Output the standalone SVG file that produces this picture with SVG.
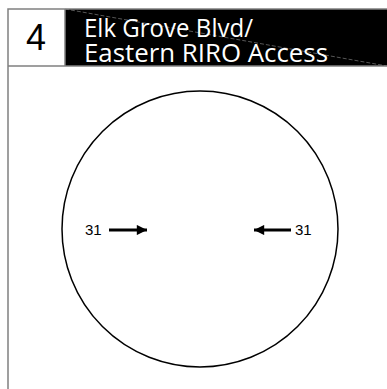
<svg xmlns="http://www.w3.org/2000/svg" width="387" height="389" viewBox="0 0 387 389">
<defs>
<style>
.frame{stroke:#808080;stroke-width:1.5;fill:none}
.title{font-family:"Open Sans","Liberation Sans",sans-serif;fill:#fff;font-size:26px}
.vol{font-family:"Liberation Sans",Arial,sans-serif;font-size:15px;fill:#000}
.arrow{stroke:#000;stroke-width:3;fill:none}
</style>
<marker id="ah" viewBox="0 0 10 10" refX="10" refY="5" markerWidth="5" markerHeight="3.4" markerUnits="strokeWidth" orient="auto"><path d="M0,0 L10,5 L0,10 Z" fill="#000"/></marker>
</defs>
<rect width="387" height="389" fill="#fff"/>
<g id="header">
<rect x="65" y="9" width="322" height="57" fill="#000"/>
<line x1="65" y1="9" x2="387" y2="66" stroke="#9a9a9a" stroke-width="0.8" stroke-dasharray="4,2" opacity="0.7"/>
<path class="frame" d="M8,389 V9 H387 M8,66 H387 M65,9 V66"/>
<text x="36" y="50" text-anchor="middle" font-family="'Liberation Sans',Arial,sans-serif" font-size="36" fill="#000">4</text>
<text class="title" x="84" y="37" textLength="169" lengthAdjust="spacingAndGlyphs">Elk Grove Blvd/</text>
<text class="title" x="84" y="62" textLength="244" lengthAdjust="spacingAndGlyphs">Eastern RIRO Access</text>
</g>
<g id="intersection">
<circle cx="200" cy="229" r="138" fill="none" stroke="#000" stroke-width="1.5"/>
</g>
<g id="connectors">
<line class="arrow" x1="109" y1="230" x2="147" y2="230" marker-end="url(#ah)"/>
<line class="arrow" x1="291" y1="230" x2="254" y2="230" marker-end="url(#ah)"/>
</g>
<g id="labels">
<text class="vol" x="85" y="235">31</text>
<text class="vol" x="295" y="235">31</text>
</g>
</svg>
